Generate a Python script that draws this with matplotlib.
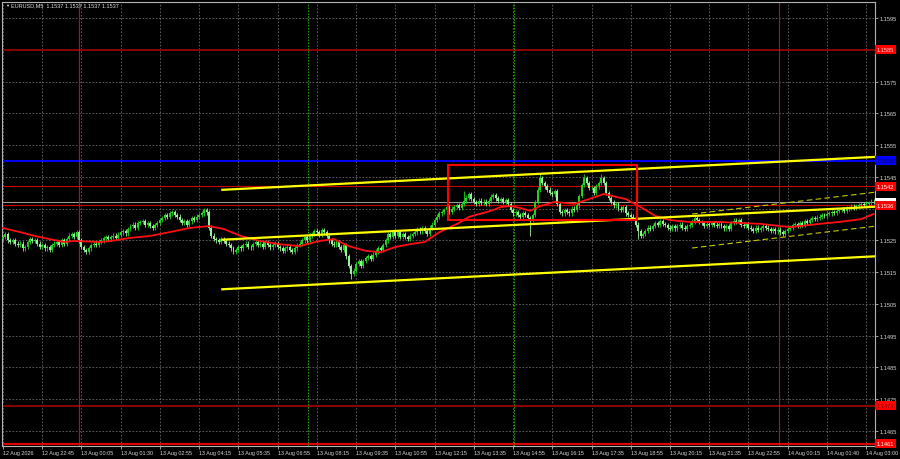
import matplotlib
matplotlib.use("Agg")
import matplotlib.pyplot as plt
from matplotlib.patches import Rectangle

plt.rcParams['font.family'] = ['Liberation Sans', 'DejaVu Sans']

# ---- data (prices) ----
BASE = 1.1500  # closes are in pips above this
first_open = 25.5
closes = [
    26, 27, 25, 24.5, 25, 24, 23.5, 24, 22.5, 23,
    24.5, 25.5, 24.8, 25, 24, 23, 23.5, 22.5, 23, 22, 23.5, 24,
    24.5, 23.5, 25, 24, 25.5, 26.5, 27, 26, 27.5, 25, 23,
    22, 21.5, 22.5, 23.5, 24, 23.5, 24.5, 25, 25.8, 26, 25.5,
    26, 26.5, 25.8, 26.8, 27.5, 28, 27.2, 28.5, 29.5, 30, 29, 30.5,
    30.8, 31, 30, 30.5, 29.5, 29, 29.8, 30.5, 31.5, 32, 33, 32.5,
    33.5, 34, 33, 32.5, 31.5, 30.5, 31, 30, 31, 32, 31.5, 32.5,
    33, 33.5, 34.5, 33.8, 29, 26.5, 25.5,
    25, 24.5, 25.5, 24.8, 24, 23.5, 22.5, 21.5, 22, 23, 22.5,
    23.5, 24, 23, 22.8, 23.8, 24.5,
    23.5, 24, 23, 24.5, 23.5, 22.8, 23.5, 24, 23,
    22.5, 21.8, 22.5, 23, 22, 21.5, 22.5, 23.5, 24,
    25, 26, 25, 26.5, 27, 28, 27.5, 26.8, 28.2, 27.5,
    26.5, 25, 24, 23.5, 24.5, 23, 22, 23.5,
    20, 17, 14.5, 15.5, 17.5, 18.5, 17, 18.5,
    19.5, 20, 19.2, 20.5, 21.5, 22.5, 22, 23.5,
    25, 27, 26, 27.5, 26.5, 27.5, 26, 27, 26, 25.5, 26.5, 27,
    27.5, 28.5, 27.8, 28.8, 28, 27, 29, 30,
    31.5, 32.5, 33.5, 34, 34.5, 35.5, 34, 35, 35.5, 36, 35.2, 36.5,
    37.5, 38.5, 39.5, 38, 37, 36.5, 37.5, 36.8, 37.2, 36.5,
    37.5, 38.8, 39.2, 38.2, 37.5, 38, 37, 37.6, 36.5,
    34.5, 33.5, 34, 33, 32.5, 33.5, 33, 32, 31.5, 33,
    37, 41, 44.5, 43, 42, 41, 40, 39.5, 40.5,
    36.5, 34, 33.5, 34.5, 34, 33.5, 35, 34.5, 36, 39,
    42.5, 44.5, 43, 41.5, 41.5, 40, 42, 43, 44.5, 43,
    40, 38.5, 37, 36, 36.5, 35, 34.5, 35.5, 33.5, 33, 32.5, 32,
    30, 28, 26.5, 27, 28, 29, 28.5, 29.5, 30.5, 30, 31, 30.2, 29.8,
    29, 28.5, 29.5, 28.8, 29.5, 30, 29, 28.5, 29.5, 30,
    31, 32, 31.5, 30.8, 30.5, 29.5, 30.2, 29.8, 30.5, 30, 29.5, 30.2,
    29.5, 28.8, 29.5, 28.5, 30.5, 31.2, 30.8, 31.5, 30, 29.5, 30.2, 29,
    28.5, 28, 29, 28.2, 28.8, 29.5, 29, 28.5, 28, 28.6, 27.8, 28.4,
    27.5, 27, 28, 28.5, 29, 29.8, 30.2, 29.6, 30.5, 30, 31, 30.6,
    31.5, 32, 31.8, 32.2, 32.5, 33, 32.8, 33.4, 33.5, 34, 33.6, 34.2,
    34.6, 34.8, 34.4, 35, 35.2, 35.6, 35.3, 35.8,
    36, 36.3, 36.1, 36.6, 36.8, 37.2, 37,
]
WICK = 0.7  # pips
high_spikes = {188: 40.5, 219: 46.2, 237: 46.0, 244: 46.0}
low_spikes = {142: 12.8, 215: 26.4, 259: 25.4}

# moving average (bar, pips above BASE)
ma_bars = [0, 7, 13, 19, 25, 29, 40, 44, 52, 60, 68, 76, 84, 90, 97, 105, 113, 121,
           129, 135, 141, 148, 154, 160, 166, 172, 178, 186, 190, 199, 203, 207, 211,
           215, 219, 225, 233, 239, 245, 254, 260, 266, 272, 280, 292, 309, 317, 321,
           325, 333, 341, 350, 355]
ma_pips = [28.9, 27.6, 26.4, 25.4, 24.5, 24.8, 24.5, 24.8, 25.8, 26.4, 27.6, 28.9,
           29.5, 28.6, 26.4, 24.8, 23.8, 23.2, 24.8, 25.4, 23.2, 21.7, 21.3, 22.9,
           23.8, 24.5, 27.6, 30.5, 32.4, 34.3, 35.5, 35.8, 35.2, 34.3, 35.8, 37.1,
           36.5, 38.0, 39.6, 38.0, 35.5, 32.7, 31.4, 30.8, 30.8, 30.2, 29.5, 29.2,
           29.5, 30.2, 30.8, 31.7, 33.3]

# trend channel and regression channel
chan_bars = [89, 356]
chan_upper = [1.15409, 1.15513]
chan_mid = [1.15252, 1.15356]
chan_lower = [1.15096, 1.15200]
reg_bars = [281, 356]
reg_upper = [1.15333, 1.15402]
reg_lower = [1.15226, 1.15295]

box_bars = [181.4, 258.7]
box_prices = [1.15313, 1.15487]

level_prices = [1.1585, 1.1550, 1.1542, 1.1536, 1.1473, 1.1461]
level_colors = ['#8b0000', '#0000ff', '#c80000', '#c80000', '#8b0000', '#e00000']
level_widths = [1.4, 1.4, 0.8, 0.8, 1.4, 1.5]
current_price = 1.1537

day_bars = [31, 316.5]
session_bars = [124.4, 208.4]

tick_bars = [16 * k for k in range(23)]
tick_labels = ["12 Aug 2026", "12 Aug 22:45", "13 Aug 00:05", "13 Aug 01:30",
               "13 Aug 02:55", "13 Aug 04:15", "13 Aug 05:35", "13 Aug 06:55",
               "13 Aug 08:15", "13 Aug 09:35", "13 Aug 10:55", "13 Aug 12:15",
               "13 Aug 13:35", "13 Aug 14:55", "13 Aug 16:15", "13 Aug 17:35",
               "13 Aug 18:55", "13 Aug 20:15", "13 Aug 21:35", "13 Aug 22:55",
               "14 Aug 00:15", "14 Aug 01:40", "14 Aug 03:00"]
price_ticks = [round(1.1465 + 0.001 * k, 4) for k in range(14)]
hidden_ticks = [1.1535, 1.1585]  # covered by the coloured tags

# ---- figure ----
fig = plt.figure(figsize=(9, 4.6), dpi=100, facecolor='black')
ax = fig.add_axes([2 / 900, 13 / 460, 873 / 900, 444 / 460], facecolor='black')
ax.set_xlim(-0.4, 355.6)
ax.set_ylim(1.146028, 1.160004)

grid_col = '#6a6a6a'
for b in tick_bars:
    ax.axvline(b, color=grid_col, lw=0.6, ls=(0, (2, 2)), zorder=0)
for p in price_ticks:
    ax.axhline(p, color=grid_col, lw=0.6, ls=(0, (2, 2)), zorder=0)

# horizontal levels
for p, c, w in zip(level_prices, level_colors, level_widths):
    ax.axhline(p, color=c, lw=w, zorder=2)
ax.axhline(current_price, color='#a0a0a0', lw=0.7, zorder=2)

for b in day_bars:
    ax.axvline(b, color='#e00000', lw=0.8, zorder=2)
for b in session_bars:
    ax.axvline(b, color='#22aa00', lw=0.7, ls=(0, (1.5, 1.5)), zorder=2)

# candles
n = len(closes)
opens = [first_open] + closes[:-1]
xs = list(range(n))
highs, lows, cols = [], [], []
for i in xs:
    o, c = opens[i], closes[i]
    highs.append(BASE + high_spikes.get(i, max(o, c) + WICK) / 10000)
    lows.append(BASE + low_spikes.get(i, min(o, c) - WICK) / 10000)
    cols.append('#1ed41e' if c >= o else '#98f098')
ax.vlines(xs, lows, highs, colors=cols, lw=0.6, zorder=3)
ax.bar(xs, [(c - o) / 10000 for o, c in zip(opens, closes)],
       bottom=[BASE + o / 10000 for o in opens], width=0.8, color=cols,
       linewidth=0, zorder=3)

# moving average
ax.plot(ma_bars, [BASE + p / 10000 for p in ma_pips], color='#ff1010', lw=1.3, zorder=4)

# channels
yel = '#ffff00'
for line in (chan_upper, chan_mid, chan_lower):
    ax.plot(chan_bars, line, color=yel, lw=1.6, zorder=5, solid_capstyle='butt')
for line in (reg_upper, reg_lower):
    ax.plot(reg_bars, line, color='#c8c800', lw=0.8, ls=(0, (5, 3)), zorder=5)

ax.add_patch(Rectangle((box_bars[0], box_prices[0]), box_bars[1] - box_bars[0],
                       box_prices[1] - box_prices[0], fill=False,
                       edgecolor='#ff0000', lw=1.5, zorder=6))

# axes styling
for s in ax.spines.values():
    s.set_color('#b4b4b4')
    s.set_linewidth(0.8)
ax.yaxis.tick_right()
ax.set_yticks(price_ticks)
ax.set_yticklabels(["" if p in hidden_ticks else "%.4f" % p for p in price_ticks])
ax.set_xticks(tick_bars)
ax.set_xticklabels(tick_labels, ha='left')
ax.tick_params(axis='both', colors='#b4b4b4', labelcolor='#d8d8d8',
               labelsize=3.9, length=2, width=0.6, pad=1)
ax.tick_params(axis='y', labelsize=4.1)

# coloured price tags on the right
tags = [(1.1585, '#ff0000', '#ffd0d0'), (1.1550, '#0000ff', '#000060'),
        (1.1542, '#ff0000', '#ffffff'), (current_price, '#ffffff', '#000000'),
        (1.1536, '#ff0000', '#ffffff'), (1.1473, '#ff0000', '#8b0000'),
        (1.1461, '#ff0000', '#ffffff')]
trans = ax.get_yaxis_transform()
for p, bg, fg in tags:
    ax.text(1.002, p, "%.4f" % p, transform=trans, fontsize=4.1, color=fg,
            va='center', ha='left', clip_on=False, zorder=10,
            bbox=dict(boxstyle='square,pad=0.35', fc=bg, ec='none'))

fig.text(5 / 900, 1 - 6 / 460, "\u25bc", color='#e0e0e0', fontsize=3, va='center')
fig.text(11 / 900, 1 - 6 / 460, "EURUSD,M5  1.1537 1.1537 1.1537 1.1537",
         color='#e0e0e0', fontsize=4, va='center')

fig.savefig("out.png", dpi=100, facecolor='black')
